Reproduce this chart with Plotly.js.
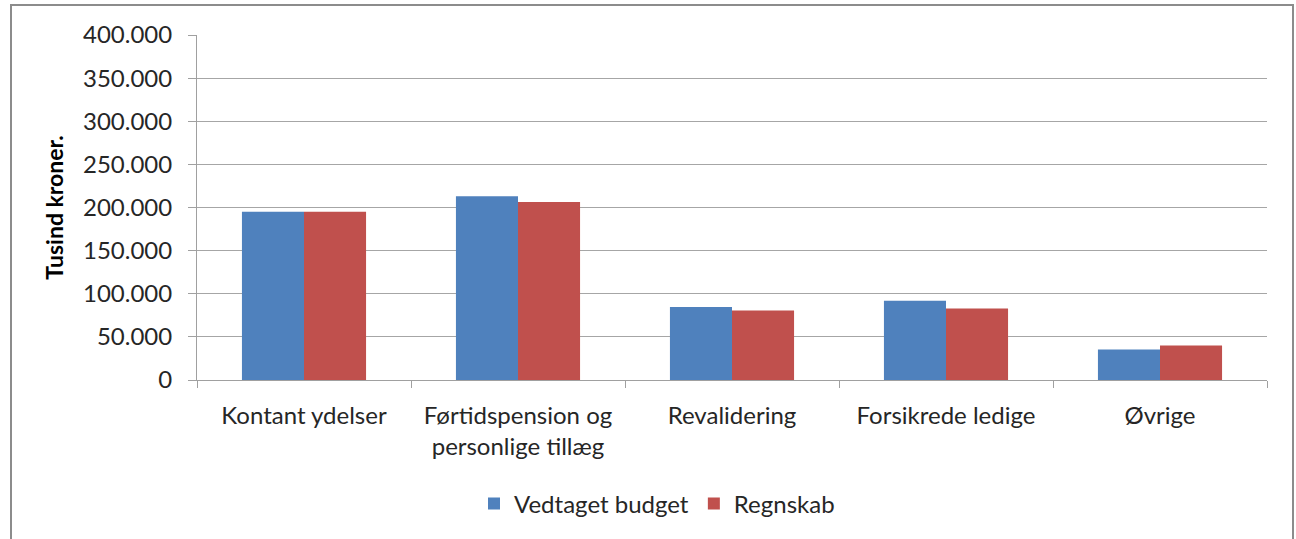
<!DOCTYPE html>
<html>
<head>
<meta charset="utf-8">
<script src="https://cdn.plot.ly/plotly-3.0.1.min.js"></script>
<style>
  html, body { margin: 0; padding: 0; background: #fff; }
  #chart { width: 1296px; height: 539px; }
</style>
</head>
<body>
<div id="chart"></div>
<script>
const categories = ["Kontant ydelser", "Førtidspension og<br>personlige tillæg", "Revalidering", "Forsikrede ledige", "Øvrige"];
const budget = [195000, 213000, 84500, 92000, 35500];
const regnskab = [195000, 206500, 80500, 83000, 40000];
const seriesNames = ["Vedtaget budget", "Regnskab"];
const yTitle = "Tusind kroner.";

const FONT = "Lato, 'Open Sans', sans-serif";
const TXT = "#262626";

const traces = [
  { type: "bar", name: seriesNames[0], x: categories, y: budget,
    marker: { color: "#4F81BD" } },
  { type: "bar", name: seriesNames[1], x: categories, y: regnskab,
    marker: { color: "#C0504D" } }
];

// plot area in pixels: left 197, right 1267, top 35, bottom 380
const L = 197, R = 1267, T = 35, B = 380, W = 1296, H = 539;
const pw = R - L, ph = B - T;
const px = v => (v - L) / pw;
const py = v => (B - v) / ph;

const layout = {
  width: W, height: H,
  margin: { l: L, r: W - R, t: T, b: H - B, pad: 0 },
  paper_bgcolor: "#ffffff",
  plot_bgcolor: "#ffffff",
  separators: ",.",
  font: { family: FONT, size: 24, color: TXT },
  barmode: "group",
  bargap: 0.42,
  bargroupgap: 0,
  showlegend: true,
  legend: {
    orientation: "h", x: px(657), xanchor: "center", y: py(504), yanchor: "middle",
    font: { family: FONT, size: 24, color: TXT },
    itemwidth: 30, traceorder: "normal"
  },
  xaxis: {
    type: "category",
    showline: true, linecolor: "#a0a0a0", linewidth: 1,
    ticks: "outside", tickson: "boundaries", ticklen: 7, tickcolor: "#a0a0a0",
    ticklabelstandoff: 14,
    showgrid: false,
    tickfont: { family: FONT, size: 24, color: TXT },
    fixedrange: true
  },
  yaxis: {
    range: [0, 400000], dtick: 50000, tick0: 0, tickformat: ",d",
    showline: true, linecolor: "#a0a0a0", linewidth: 1,
    ticks: "outside", ticklen: 8, tickcolor: "#a0a0a0",
    ticklabelstandoff: 11,
    showgrid: true, gridcolor: "#a6a6a6", gridwidth: 1,
    zeroline: false,
    tickfont: { family: FONT, size: 24, color: TXT },
    title: { text: "<b>" + yTitle + "</b>", font: { family: FONT, size: 23, color: "#000" }, standoff: 12 },
    fixedrange: true
  },
  shapes: [
    { type: "rect", xref: "paper", yref: "paper",
      x0: px(11), x1: px(1293), y0: py(560), y1: py(5),
      line: { color: "#8c8c8c", width: 2 }, fillcolor: "rgba(0,0,0,0)", layer: "below" }
  ]
};

Plotly.newPlot("chart", traces, layout, { displayModeBar: false, staticPlot: true });
</script>
</body>
</html>
